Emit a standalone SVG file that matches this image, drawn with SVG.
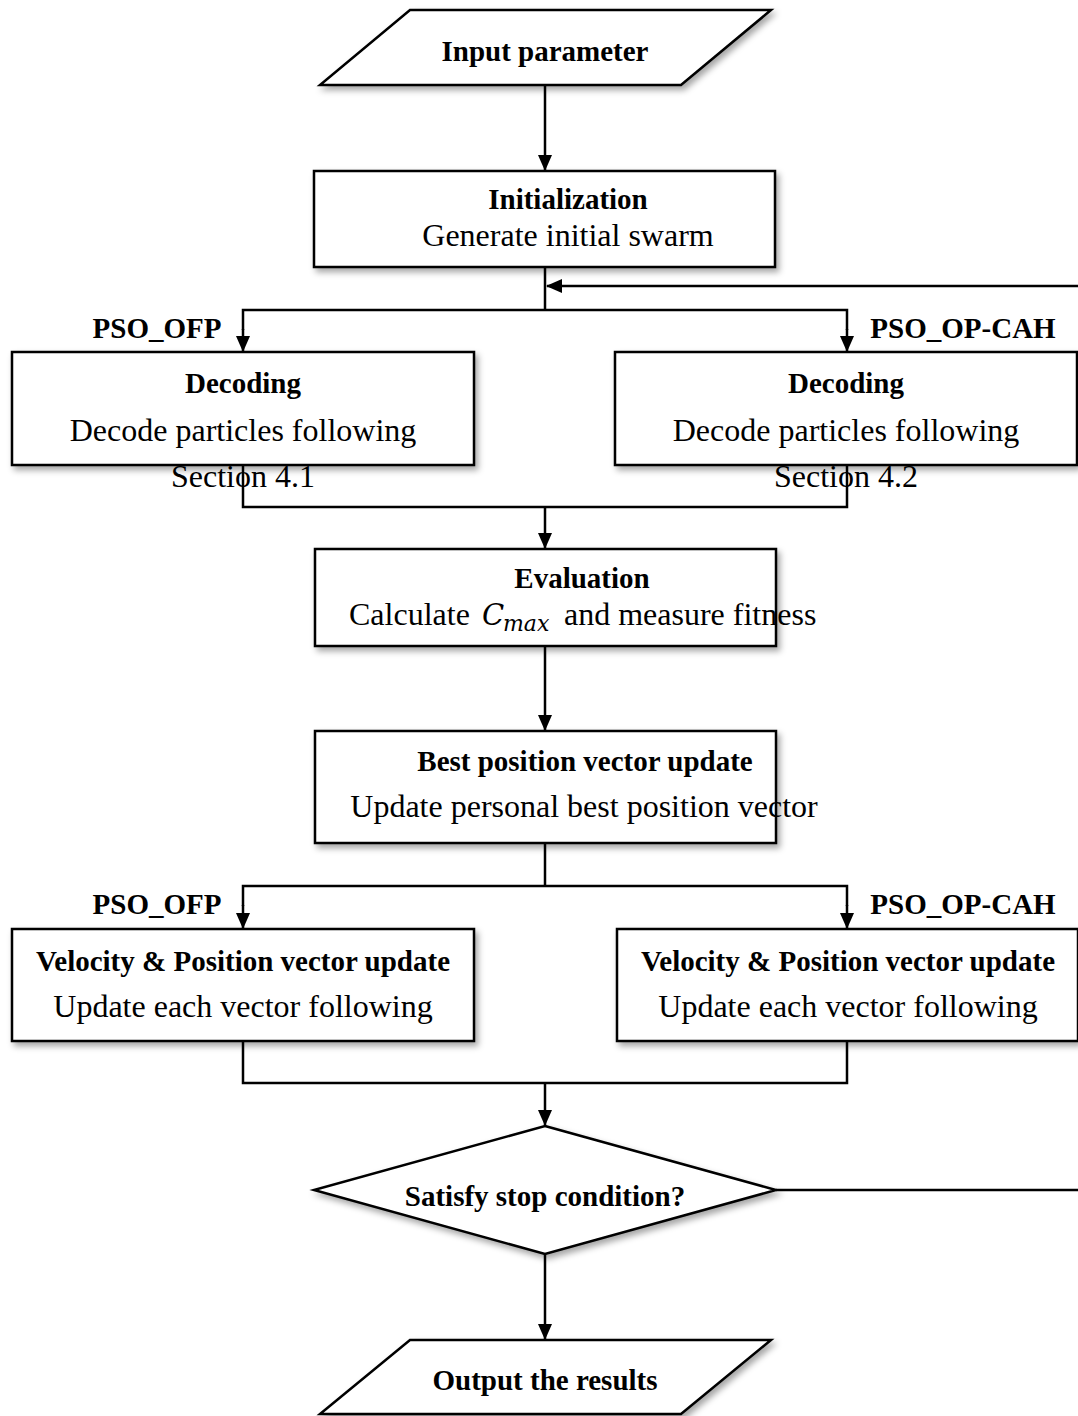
<svg xmlns="http://www.w3.org/2000/svg" width="1078" height="1416" viewBox="0 0 1078 1416">
<defs>
<style>
.shape{fill:#fff;stroke:#000;stroke-width:2.5;filter:url(#sh)}
.ln{fill:none;stroke:#000;stroke-width:2.5}
.b{font-family:"Liberation Serif","Times New Roman",serif;font-weight:bold;font-size:29px;fill:#000;text-anchor:middle}
.r{font-family:"Liberation Serif","Times New Roman",serif;font-size:32px;fill:#000;text-anchor:middle}
.s{text-anchor:start}
.m{font-family:"DejaVu Serif","Liberation Serif",serif;font-style:italic;fill:#000}
</style>
<filter id="sh" x="-10%" y="-10%" width="120%" height="130%">
<feDropShadow dx="3" dy="4" stdDeviation="3" flood-color="#000" flood-opacity="0.35"/>
</filter>
<marker id="ah" markerWidth="16" markerHeight="14" refX="15" refY="7" orient="auto" markerUnits="userSpaceOnUse">
<path d="M0,0 L16,7 L0,14 Z" fill="#000"/>
</marker>
</defs>
<rect width="1078" height="1416" fill="#fff"/>

<g id="connectors">
<path class="ln" d="M545,85 V170" marker-end="url(#ah)"/>
<path class="ln" d="M545,267 V310"/>
<path class="ln" d="M1078,286 H547" marker-end="url(#ah)"/>
<path class="ln" d="M243,330 V310 H847 V330"/>
<path class="ln" d="M243,329 V351" marker-end="url(#ah)"/>
<path class="ln" d="M847,329 V351" marker-end="url(#ah)"/>
<path class="ln" d="M243,465 V507 H847 V465"/>
<path class="ln" d="M545,507 V548" marker-end="url(#ah)"/>
<path class="ln" d="M545,646 V730" marker-end="url(#ah)"/>
<path class="ln" d="M545,843 V886"/>
<path class="ln" d="M243,906 V886 H847 V906"/>
<path class="ln" d="M243,905 V928" marker-end="url(#ah)"/>
<path class="ln" d="M847,905 V928" marker-end="url(#ah)"/>
<path class="ln" d="M243,1041 V1083 H847 V1041"/>
<path class="ln" d="M545,1083 V1125" marker-end="url(#ah)"/>
<path class="ln" d="M776,1190 H1078"/>
<path class="ln" d="M545,1254 V1339" marker-end="url(#ah)"/>
</g>

<g id="labels">
<text class="b" x="157" y="338">PSO_OFP</text>
<text class="b" x="963" y="338">PSO_OP-CAH</text>
<text class="b" x="157" y="914">PSO_OFP</text>
<text class="b" x="963" y="914">PSO_OP-CAH</text>
</g>

<g id="input">
<polygon class="shape" points="410,10 771,10 681,85 320,85"/>
<text class="b" x="545" y="61">Input parameter</text>
</g>

<g id="init">
<rect class="shape" x="314" y="171" width="461" height="96"/>
<text class="b" x="568" y="209">Initialization</text>
<text class="r" x="568" y="246">Generate initial swarm</text>
</g>

<g id="decode-left">
<rect class="shape" x="12" y="352" width="462" height="113"/>
<text class="b" x="243" y="393">Decoding</text>
<text class="r" x="243" y="441">Decode particles following</text>
<text class="r" x="243" y="487">Section 4.1</text>
</g>

<g id="decode-right">
<rect class="shape" x="615" y="352" width="462" height="113"/>
<text class="b" x="846" y="393">Decoding</text>
<text class="r" x="846" y="441">Decode particles following</text>
<text class="r" x="846" y="487">Section 4.2</text>
</g>

<g id="evaluation">
<rect class="shape" x="315" y="549" width="461" height="97"/>
<text class="b" x="582" y="588">Evaluation</text>
<text class="r s" x="349" y="625">Calculate</text>
<text class="m" x="482" y="625" font-size="29">C</text>
<text class="m" x="503" y="631" font-size="22">max</text>
<text class="r s" x="564" y="625">and measure fitness</text>
</g>

<g id="best">
<rect class="shape" x="315" y="731" width="461" height="112"/>
<text class="b" x="585" y="771">Best position vector update</text>
<text class="r" x="584" y="817">Update personal best position vector</text>
</g>

<g id="vel-left">
<rect class="shape" x="12" y="929" width="462" height="112"/>
<text class="b" x="243" y="971">Velocity &amp; Position vector update</text>
<text class="r" x="243" y="1017">Update each vector following</text>
</g>

<g id="vel-right">
<rect class="shape" x="617" y="929" width="461" height="112"/>
<text class="b" x="848" y="971">Velocity &amp; Position vector update</text>
<text class="r" x="848" y="1017">Update each vector following</text>
</g>

<g id="decision">
<polygon class="shape" points="545,1126 776,1190 545,1254 314,1190"/>
<text class="b" x="545" y="1206">Satisfy stop condition?</text>
</g>

<g id="output">
<polygon class="shape" points="410,1340 771,1340 681,1414 320,1414"/>
<text class="b" x="545" y="1390">Output the results</text>
</g>
</svg>
